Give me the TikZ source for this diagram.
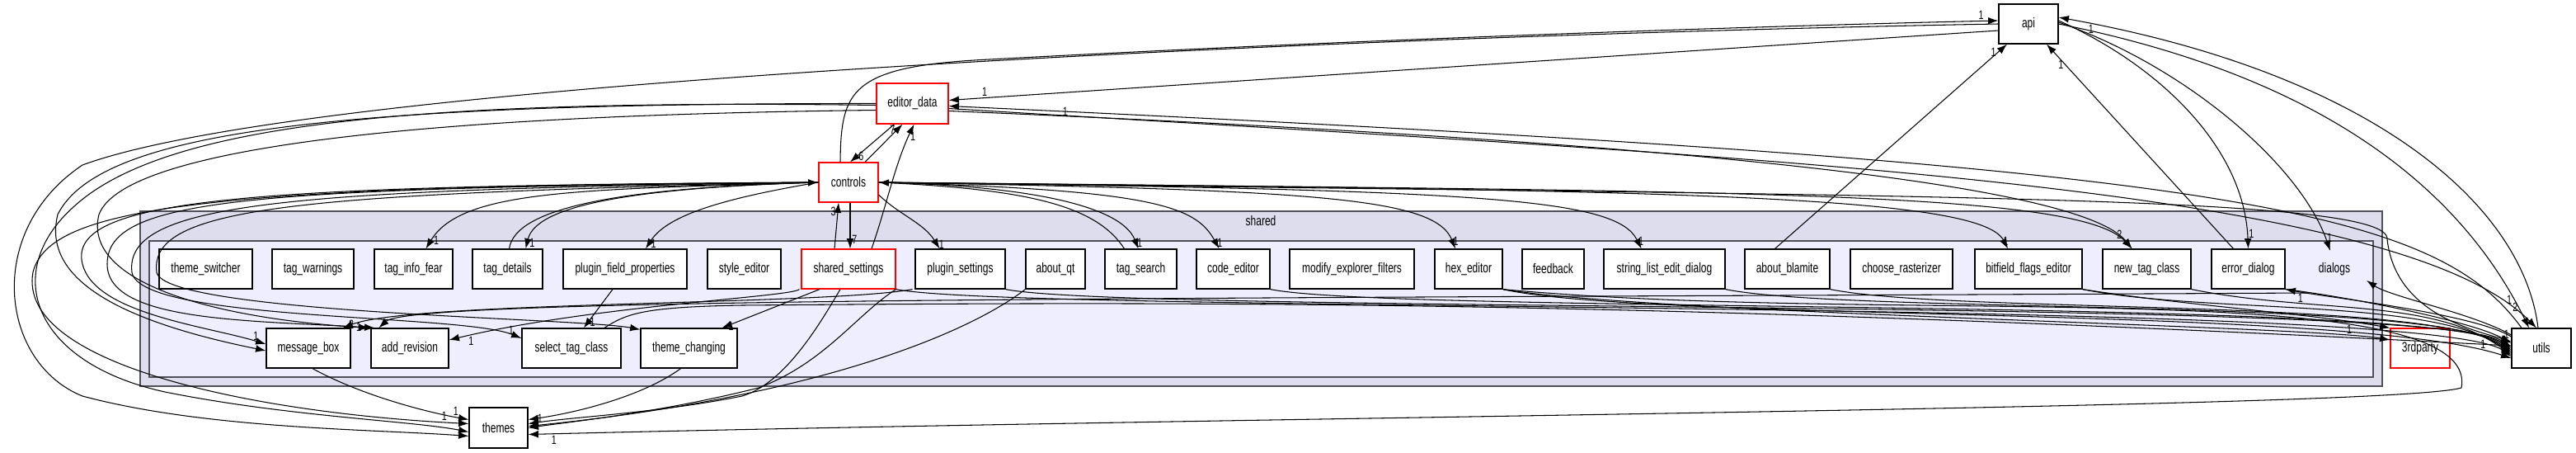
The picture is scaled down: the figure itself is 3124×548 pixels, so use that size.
\documentclass[tikz,border=0pt]{standalone}
\usepackage{fontspec}
\setmainfont{Liberation Sans}[FakeStretch=0.72]
\usetikzlibrary{arrows.meta,calc}
\definecolor{outerc}{RGB}{221,221,238}
\definecolor{innerc}{RGB}{238,238,255}
\definecolor{frame}{RGB}{80,80,90}
\tikzset{
  bx/.style={draw=black,fill=white,line width=0.7pt,inner sep=0pt,font=\fontsize{9.5}{10}\selectfont},
  red/.style={draw=red},
  e/.style={-{Latex[length=7pt,width=5pt]},line width=0.6pt},
  lab/.style={font=\fontsize{8.5}{9}\selectfont,inner sep=1pt},
}
\newcommand\bx[7]{\node[bx,#7,minimum width={(#3-#2)*0.02cm},minimum height={(#5-#4)*0.02cm}] (#1) at ({(#2+#3)/2},{(#4+#5)/2}) {#6};}
\begin{document}
\begin{tikzpicture}[x=0.02cm,y=-0.02cm]
\useasboundingbox (0,0) rectangle (3124,548);
\draw[frame,fill=outerc,line width=1.2pt] (170,256) rectangle (2889,468);
\draw[frame,fill=innerc,line width=1.2pt] (181,292) rectangle (2878,457);
\node[font=\fontsize{9.5}{10}\selectfont] (sharedlab) at (1529,268) {shared};
\node[font=\fontsize{9.5}{10}\selectfont] (dialogslab) at (2831,326) {dialogs};
\coordinate (dialogsin) at (2826,304);
\coordinate (dialogsout) at (2870,340);
\bx{api}{2424}{2496}{5}{53}{api}{}
\bx{editor_data}{1063}{1150}{101}{150}{editor\_data}{red}
\bx{controls}{993}{1065}{197}{245}{controls}{red}
\bx{theme_switcher}{193}{306}{302}{350}{theme\_switcher}{}
\bx{tag_warnings}{330}{429}{302}{350}{tag\_warnings}{}
\bx{tag_info_fear}{454}{549}{302}{350}{tag\_info\_fear}{}
\bx{tag_details}{573}{658}{302}{350}{tag\_details}{}
\bx{plugin_field_properties}{683}{833}{302}{350}{plugin\_field\_properties}{}
\bx{style_editor}{858}{947}{302}{350}{style\_editor}{}
\bx{shared_settings}{972}{1086}{302}{350}{shared\_settings}{red}
\bx{plugin_settings}{1110}{1219}{302}{350}{plugin\_settings}{}
\bx{about_qt}{1244}{1316}{302}{350}{about\_qt}{}
\bx{tag_search}{1340}{1427}{302}{350}{tag\_search}{}
\bx{code_editor}{1451}{1540}{302}{350}{code\_editor}{}
\bx{modify_explorer_filters}{1564}{1715}{302}{350}{modify\_explorer\_filters}{}
\bx{hex_editor}{1740}{1822}{302}{350}{hex\_editor}{}
\bx{feedback}{1846}{1921}{302}{350}{feedback}{}
\bx{string_list_edit_dialog}{1945}{2092}{302}{350}{string\_list\_edit\_dialog}{}
\bx{about_blamite}{2116}{2219}{302}{350}{about\_blamite}{}
\bx{choose_rasterizer}{2244}{2368}{302}{350}{choose\_rasterizer}{}
\bx{bitfield_flags_editor}{2395}{2525}{302}{350}{bitfield\_flags\_editor}{}
\bx{new_tag_class}{2550}{2657}{302}{350}{new\_tag\_class}{}
\bx{error_dialog}{2682}{2771}{302}{350}{error\_dialog}{}
\bx{message_box}{323}{425}{398}{446}{message\_box}{}
\bx{add_revision}{450}{544}{398}{446}{add\_revision}{}
\bx{select_tag_class}{633}{753}{398}{446}{select\_tag\_class}{}
\bx{theme_changing}{777}{894}{398}{446}{theme\_changing}{}
\bx{3rdparty}{2899}{2971}{398}{446}{3rdparty}{red}
\bx{utils}{3046}{3118}{398}{446}{utils}{}
\bx{themes}{569}{640}{494}{543}{themes}{}
% controls <-> editor_data
\draw[e] ($(controls.north)+(20,0)$) -- ($(editor_data.south)+(-12,0)$) node[lab,pos=.85,left]{7};
\draw[e] ($(editor_data.south)+(-22,0)$) -- ($(controls.north)+(2,0)$) node[lab,pos=.85,right]{6};
\draw[e] ($(shared_settings.north)+(28,0)$) .. controls (1075,250) and (1085,200) .. ($(editor_data.south)+(2,0)$) node[lab,pos=.9,right]{1};
% controls <-> shared_settings
\draw[e] ($(shared_settings.north)+(-17,0)$) -- ($(controls.south)+(-12,0)$) node[lab,pos=.8,left]{3};
\draw[e] ($(controls.south)+(2,0)$) -- ($(shared_settings.north)+(2,0)$) node[lab,pos=.8,right]{7};
% api
\draw[e] ($(controls.north)+(-10,0)$) .. controls (1020,110) and (1030,80) .. (1200,72) .. controls (1700,45) and (2200,30) .. ($(api.west)+(0,-4)$) node[lab,pos=.97,above]{1};
\draw[e] ($(api.west)+(0,8)$) -- ($(editor_data.east)+(0,-4)$) node[lab,pos=.97,above right]{1};
\draw[e] ($(about_blamite.north)+(-15,0)$) -- ($(api.south)+(-26,0)$) node[lab,pos=.96,left]{1};
\draw[e] ($(error_dialog.north)+(-18,0)$) -- ($(api.south)+(22,0)$) node[lab,pos=.9,left]{1};
\draw[e] ($(utils.north)+(-4,0)$) .. controls (3060,250) and (2880,90) .. ($(api.east)+(0,-8)$) node[lab,pos=.97,below right]{1};
\draw[e] ($(api.east)+(0,-4)$) .. controls (2620,80) and (2722,180) .. (error_dialog.north) node[lab,pos=.95,right]{1};
\draw[e] ($(api.east)+(0,-2)$) .. controls (2650,80) and (2790,200) .. (dialogsin) node[lab,pos=.95,right]{1};
\draw[e] ($(api.east)+(0,0)$) .. controls (2700,70) and (2950,160) .. ($(utils.north)+(-15,0)$) node[lab,pos=.95,left]{1};
% editor_data <-> utils, new_tag_class
\draw[e] ($(utils.north)+(-24,0)$) .. controls (2950,250) and (2700,200) .. ($(editor_data.east)+(0,3)$) node[lab,pos=.97,right]{1};
\draw[e] ($(editor_data.east)+(0,6)$) .. controls (2100,190) and (2900,220) .. ($(utils.north)+(-6,0)$) node[lab,pos=.95,right]{2};
\draw[e] ($(editor_data.east)+(0,9)$) .. controls (2000,170) and (2520,220) .. ($(new_tag_class.north)+(-18,0)$) node[lab,pos=.93,right]{2};
% controls -> top row
\draw[e] (controls.west) .. controls (700,230) and (560,230) .. ($(tag_info_fear.north)+(15,0)$) node[lab,pos=.95,right]{1};
\draw[e] (controls.west) .. controls (760,228) and (650,250) .. ($(tag_details.north)+(22,0)$) node[lab,pos=.95,right]{1};
\draw[e] ($(tag_details.north)+(2,0)$) .. controls (625,250) and (760,228) .. (controls.west);
\draw[e] (controls.west) .. controls (880,240) and (810,260) .. ($(plugin_field_properties.north)+(25,0)$) node[lab,pos=.95,right]{1};
\draw[e] ($(controls.east)+(0,15)$) .. controls (1090,260) and (1120,270) .. ($(plugin_settings.north)+(-25,0)$) node[lab,pos=.95,right]{1};
\draw[e] (controls.east) .. controls (1250,225) and (1360,250) .. ($(tag_search.north)+(-3,0)$) node[lab,pos=.95,right]{1};
\draw[e] ($(tag_search.north)+(-20,0)$) .. controls (1330,250) and (1250,230) .. (controls.east);
\draw[e] (controls.east) .. controls (1400,230) and (1450,250) .. ($(code_editor.north)+(-17,0)$) node[lab,pos=.95,right]{1};
\draw[e] (controls.east) .. controls (1600,230) and (1740,240) .. ($(hex_editor.north)+(-16,0)$) node[lab,pos=.95,right]{1};
\draw[e] (controls.east) .. controls (1800,230) and (1960,240) .. ($(string_list_edit_dialog.north)+(-28,0)$) node[lab,pos=.95,right]{1};
\draw[e] (controls.east) .. controls (2000,230) and (2400,235) .. ($(bitfield_flags_editor.north)+(-25,0)$) node[lab,pos=.95,right]{1};
\draw[e] (controls.east) .. controls (2100,232) and (2520,230) .. ($(new_tag_class.north)+(-18,0)$);
\draw[e] (controls.east) .. controls (2300,238) and (2900,235) .. (2895,290) .. controls (2905,380) and (3000,400) .. ($(utils.west)+(0,-8)$) node[lab,pos=.96,above]{1};
% controls -> bottom row, themes (left loops)
\draw[e] (controls.west) .. controls (300,225) and (80,240) .. (100,320) .. controls (115,380) and (250,395) .. ($(message_box.west)+(0,-5)$) node[lab,pos=.97,above left]{1};
\draw[e] (controls.west) .. controls (300,228) and (130,240) .. (130,320) .. controls (130,390) and (300,388) .. ($(add_revision.north west)+(5,0)$) node[lab,pos=.97,left]{1};
\draw[e] (controls.west) .. controls (350,230) and (150,245) .. (160,330) .. controls (170,390) and (560,380) .. ($(select_tag_class.west)+(0,-12)$) node[lab,pos=.97,above left]{1};
\draw[e] (controls.west) .. controls (360,235) and (180,250) .. (190,330) .. controls (200,380) and (700,385) .. ($(theme_changing.north west)+(0,2)$);
\draw[e] (controls.west) .. controls (250,225) and (60,250) .. (40,330) .. controls (20,440) and (300,500) .. ($(themes.west)+(0,-5)$) node[lab,pos=.97,above left]{1};
% editor_data left loops
\draw[e] ($(editor_data.west)+(0,2)$) .. controls (500,120) and (200,150) .. (90,250) .. controls (0,330) and (40,440) .. (200,475) .. controls (350,505) and (500,510) .. ($(themes.west)+(0,5)$);
\draw[e] ($(editor_data.west)+(0,0)$) .. controls (400,125) and (120,160) .. (70,260) .. controls (50,340) and (150,390) .. ($(message_box.west)+(0,3)$);
\draw[e] ($(editor_data.west)+(0,8)$) .. controls (500,140) and (150,180) .. (120,260) .. controls (100,340) and (250,385) .. ($(add_revision.north west)+(-2,0)$);
\draw[e] ($(api.west)+(0,0)$) .. controls (1800,40) and (400,90) .. (100,200) .. controls (-20,280) and (0,440) .. (100,480) .. controls (250,520) and (450,520) .. ($(themes.west)+(0,10)$);
% plugin_field_properties, select_tag_class, message_box
\draw[e] ($(plugin_field_properties.south)+(-15,0)$) -- ($(select_tag_class.north)+(15,0)$) node[lab,pos=.85,right]{1};
\draw[e] ($(select_tag_class.north)+(40,0)$) .. controls (760,380) and (780,372) .. (900,370) .. controls (1500,365) and (2000,365) .. ($(utils.west)+(0,-3)$);
\draw[e] ($(shared_settings.south west)+(-2,0)$) .. controls (960,360) and (720,370) .. ($(add_revision.east)+(0,-10)$) node[lab,pos=.95,below]{1};
\draw[e] ($(shared_settings.south)+(-35,0)$) -- ($(theme_changing.north)+(40,0)$) node[lab,pos=.95,right]{1};
\draw[e] ($(shared_settings.south)+(-10,0)$) .. controls (990,400) and (950,465) .. (900,480) .. controls (800,500) and (700,505) .. ($(themes.east)+(0,-5)$);
\draw[e] ($(shared_settings.south east)+(0,0)$) .. controls (1040,380) and (1000,440) .. (920,470) .. controls (800,500) and (700,510) .. ($(themes.east)+(0,0)$);
\draw[e] ($(shared_settings.south east)+(20,0)$) .. controls (1000,370) and (500,365) .. ($(message_box.north east)+(-10,0)$) node[lab,pos=.95,left]{2};
\draw[e] (2800,355) .. controls (1500,362) and (500,360) .. ($(add_revision.north west)+(10,0)$);
\draw[e] ($(message_box.south)+(5,0)$) .. controls (440,480) and (520,500) .. ($(themes.west)+(0,-10)$) node[lab,pos=.9,above]{1};
\draw[e] ($(theme_changing.south)+(-10,0)$) .. controls (780,480) and (700,500) .. ($(themes.east)+(0,-10)$) node[lab,pos=.95,right]{1};
\draw[e] ($(about_qt.south west)+(0,0)$) .. controls (1180,400) and (1000,480) .. ($(themes.east)+(0,-2)$);
\draw[e] ($(hex_editor.south east)+(0,0)$) .. controls (2300,395) and (3010,330) .. (2985,470) .. controls (2900,495) and (1500,505) .. ($(themes.east)+(0,8)$) node[lab,pos=.99,below right]{1};
% to utils and 3rdparty
\foreach \n/\d in {plugin_settings/-2,code_editor/0,string_list_edit_dialog/2,about_blamite/4,bitfield_flags_editor/6,new_tag_class/8,shared_settings/10}{
  \draw[e] (\n.south east) .. controls ($(\n.south east)+(150,30)$) and (2950,360) .. ($(utils.west)+(0,\d)$);
}
\draw[e] (hex_editor.south east) .. controls (2000,390) and (2850,370) .. ($(utils.west)+(0,12)$) node[lab,pos=.95,above]{1};
\draw[e] (error_dialog.south east) .. controls (2850,360) and (3000,390) .. ($(utils.west)+(0,-6)$);
\draw[e] (hex_editor.south east) .. controls (2000,380) and (2800,395) .. ($(3rdparty.west)+(0,-10)$) node[lab,pos=.9,above]{1};
\draw[e] (bitfield_flags_editor.south east) .. controls (2650,370) and (2800,380) .. ($(3rdparty.north west)+(0,0)$);
\draw[e] ($(utils.west)+(0,-14)$) .. controls (3000,380) and (2820,360) .. (error_dialog.south east) node[lab,pos=.9,below]{1};
\draw[e] ($(utils.west)+(0,-16)$) .. controls (3000,380) and (2900,360) .. (dialogsout);
\end{tikzpicture}
\end{document}
